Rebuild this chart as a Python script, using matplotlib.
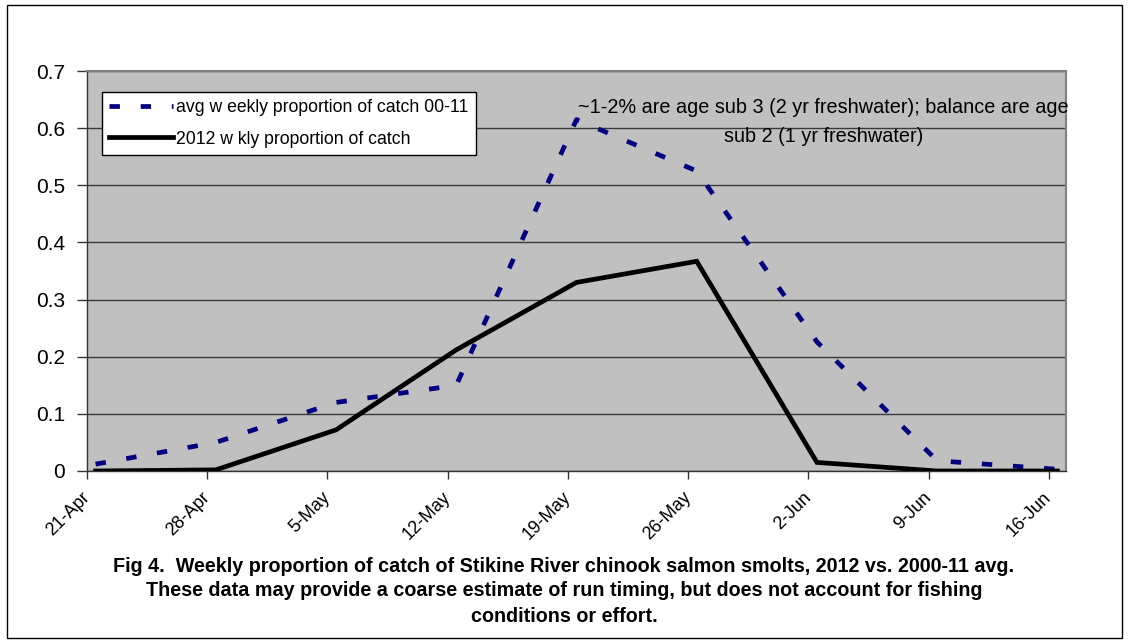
import matplotlib
matplotlib.use("Agg")
import matplotlib.pyplot as plt
import matplotlib.dates as mdates
import numpy as np
import pandas as pd
from matplotlib.patches import Rectangle

plt.rcParams['font.family'] = ['Liberation Sans', 'DejaVu Sans']

# ---- data ----
week_dates = ['2012-04-21', '2012-04-28', '2012-05-05', '2012-05-12', '2012-05-19',
              '2012-05-26', '2012-06-02', '2012-06-09', '2012-06-16']
tick_labels = ['21-Apr', '28-Apr', '5-May', '12-May', '19-May', '26-May', '2-Jun', '9-Jun', '16-Jun']
avg_00_11 = [0.012, 0.05, 0.12, 0.15, 0.615, 0.525, 0.226, 0.018, 0.003]
wkly_2012 = [0.0, 0.002, 0.072, 0.212, 0.33, 0.367, 0.015, 0.0, 0.0]
series_labels = ['avg w eekly proportion of catch 00-11', '2012 w kly proportion of catch']
note_text = "~1-2% are age sub 3 (2 yr freshwater); balance are age\nsub 2 (1 yr freshwater)"
caption = ("Fig 4.  Weekly proportion of catch of Stikine River chinook salmon smolts, 2012 vs. 2000-11 avg.\n"
           "These data may provide a coarse estimate of run timing, but does not account for fishing\n"
           "conditions or effort.")

W, H = 1130, 642
fig = plt.figure(figsize=(W / 100, H / 100), dpi=100)
fig.patch.set_facecolor('white')

# outer border
fig.add_artist(Rectangle((7 / W, 1 - 638 / H), (1122 - 7) / W, (638 - 5) / H,
                         transform=fig.transFigure, fill=False, edgecolor='black', lw=1))

L, R, T, B = 87, 1066, 71, 471
ax = fig.add_axes([L / W, 1 - B / H, (R - L) / W, (B - T) / H])
ax.set_facecolor('#C0C0C0')

d = mdates.date2num(pd.to_datetime(week_dates))
x = d + 0.5  # points centred on day

ax.plot(x, avg_00_11, color='#000080', lw=3.4, dashes=(2.2, 4.4), dash_capstyle='butt',
        solid_capstyle='butt', label=series_labels[0], zorder=3)
ax.plot(x, wkly_2012, color='black', lw=3.4, solid_joinstyle='miter', label=series_labels[1], zorder=4)

ax.set_xlim(d[0], d[-1] + 1)
ax.set_ylim(0, 0.7)
ax.set_yticks(np.arange(0, 0.71, 0.1))
ax.set_yticklabels(['0', '0.1', '0.2', '0.3', '0.4', '0.5', '0.6', '0.7'], fontsize=15)
ax.set_xticks(d)
ax.set_xticklabels(tick_labels, fontsize=13, rotation=45, ha='right', va='center',
                   rotation_mode='anchor')
ax.tick_params(axis='y', length=7, width=1, color='#333333', pad=9)
ax.tick_params(axis='x', length=6, width=1, color='#333333', pad=11)
ax.grid(axis='y', color='#3a3a3a', lw=1)
ax.set_axisbelow(True)
for s in ['top', 'right']:
    ax.spines[s].set_color('#808080')
    ax.spines[s].set_linewidth(1.5)
for s in ['left', 'bottom']:
    ax.spines[s].set_color('#333333')
    ax.spines[s].set_linewidth(1)

leg = ax.legend(loc='upper left', bbox_to_anchor=(102 / W, 1 - 92 / H),
                bbox_transform=fig.transFigure, fontsize=12.7, frameon=True, fancybox=False,
                edgecolor='black', framealpha=1, borderaxespad=0, borderpad=0.42,
                handlelength=3.6, handletextpad=0.17, labelspacing=0.8)
leg.get_frame().set_linewidth(1)

ax.text(0.752, 0.8725, note_text, transform=ax.transAxes, ha='center', va='center',
        fontsize=14.3, linespacing=1.72)

fig.text(564 / W, 1 - 591 / H, caption, ha='center', va='center', fontsize=14.2,
         fontweight='bold', linespacing=1.4)

fig.savefig('out.png', dpi=100)
